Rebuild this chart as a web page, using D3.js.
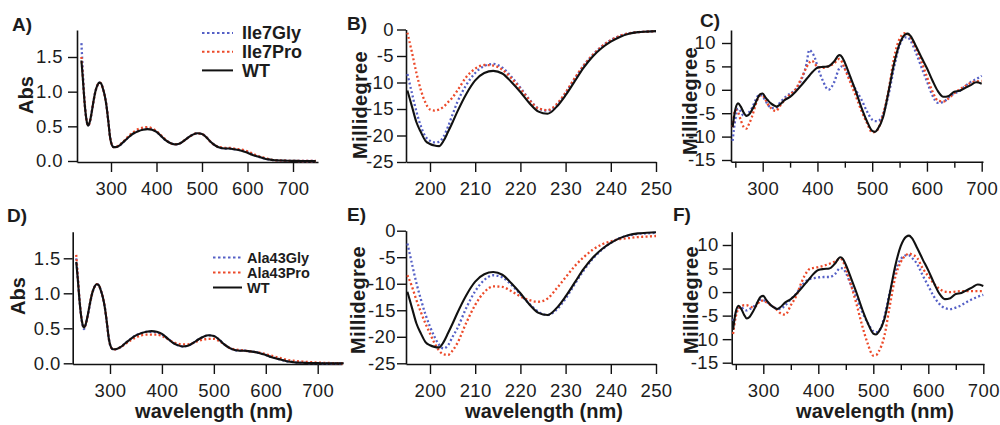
<!DOCTYPE html>
<html>
<head>
<meta charset="utf-8">
<script src="https://cdn.jsdelivr.net/npm/d3@7"></script>
<style>
body { margin: 0; background: #fff; }
svg text { font-family: "Liberation Sans", Arial, sans-serif; fill: #1c1c1c; }
</style>
</head>
<body>
<svg width="1000" height="425"></svg>
<script>
// ---- UV-vis absorbance (panels A and D) ----
var uvNm = [235,238,241,244,247,250,254,258,262,266,270,274,278,282,286,290,294,298,302,306,310,
  320,330,340,350,360,370,380,390,400,410,420,430,440,450,460,470,480,490,500,510,520,530,540,550,
  560,570,580,590,600,610,620,630,640,650,660,670,680,690,700,720,750];
var uvWT = [1.45,1.2,0.92,0.7,0.56,0.51,0.58,0.72,0.88,1.01,1.09,1.13,1.12,1.05,0.95,0.8,0.58,0.34,0.23,0.2,0.2,
  0.23,0.29,0.35,0.4,0.43,0.45,0.46,0.45,0.42,0.36,0.3,0.26,0.24,0.25,0.29,0.34,0.38,0.4,0.39,0.34,0.27,0.22,0.19,0.18,
  0.18,0.17,0.16,0.14,0.12,0.09,0.07,0.05,0.03,0.02,0.01,0.008,0.005,0.003,0.002,0,0];
var uvIle7Gly = [1.7,1.3,0.94,0.7,0.56,0.51,0.58,0.72,0.88,1.01,1.09,1.13,1.12,1.05,0.95,0.8,0.58,0.34,0.23,0.2,0.2,
  0.23,0.29,0.35,0.4,0.44,0.46,0.47,0.46,0.42,0.36,0.3,0.26,0.24,0.25,0.29,0.34,0.38,0.4,0.39,0.34,0.27,0.22,0.19,0.18,
  0.18,0.17,0.16,0.15,0.13,0.1,0.07,0.05,0.03,0.02,0.01,0.008,0.005,0.003,0.002,0,0];
var uvIle7Pro = [1.5,1.22,0.93,0.7,0.56,0.51,0.58,0.72,0.88,1.01,1.09,1.13,1.12,1.05,0.95,0.8,0.58,0.34,0.23,0.2,0.2,
  0.24,0.3,0.37,0.42,0.46,0.48,0.49,0.47,0.43,0.37,0.31,0.26,0.24,0.25,0.29,0.34,0.38,0.4,0.39,0.34,0.27,0.22,0.2,0.19,
  0.19,0.18,0.17,0.16,0.14,0.11,0.08,0.06,0.04,0.02,0.01,0.008,0.005,0.003,0.002,0,0];
var uvAla43Gly = [1.5,1.22,0.93,0.7,0.55,0.49,0.57,0.71,0.87,1.0,1.09,1.13,1.12,1.05,0.95,0.8,0.58,0.34,0.23,0.2,0.2,
  0.23,0.29,0.35,0.4,0.43,0.45,0.45,0.44,0.41,0.36,0.3,0.26,0.24,0.25,0.29,0.34,0.38,0.4,0.39,0.34,0.27,0.22,0.19,0.18,
  0.18,0.17,0.16,0.14,0.12,0.09,0.07,0.05,0.03,0.02,0.01,0.008,0.005,0.003,0.002,0,0];
var uvAla43Pro = [1.55,1.24,0.94,0.71,0.56,0.51,0.58,0.72,0.88,1.01,1.09,1.13,1.12,1.05,0.95,0.8,0.58,0.34,0.23,0.2,0.2,
  0.23,0.28,0.33,0.37,0.4,0.41,0.41,0.41,0.39,0.35,0.31,0.28,0.27,0.27,0.29,0.32,0.34,0.35,0.35,0.32,0.27,0.22,0.2,0.19,
  0.18,0.17,0.16,0.15,0.13,0.11,0.09,0.07,0.05,0.04,0.03,0.025,0.02,0.015,0.01,0.005,0];

// ---- far-UV CD (panels B and E) ----
var farNm = [195,196,197,198,199,200,201,202,203,204,205,206,208,210,212,214,216,218,220,222,224,226,228,230,
  232,234,236,238,240,242,244,246,248,250];
var farWT = [-11.5,-14.5,-17.5,-19.4,-21.0,-21.6,-21.9,-22.0,-21.0,-19.3,-17.5,-15.6,-12.2,-9.6,-8.2,-7.8,-8.3,-9.9,-11.8,-13.9,-15.5,-15.9,-14.6,-12.4,
  -9.8,-7.2,-5.1,-3.5,-2.3,-1.4,-0.8,-0.5,-0.4,-0.3];
var farIle7Gly = [-8.4,-12.0,-15.5,-18.3,-20.2,-21.0,-21.3,-21.2,-20.2,-18.3,-16.0,-13.8,-10.5,-8.2,-6.9,-6.5,-7.2,-8.9,-11.0,-13.2,-14.9,-15.3,-14.3,-12.0,
  -9.3,-6.8,-4.8,-3.2,-2.0,-1.2,-0.7,-0.5,-0.4,-0.3];
var farIle7Pro = [-0.6,-4.3,-8.2,-11.5,-13.8,-15.1,-15.3,-15.1,-14.6,-13.7,-12.8,-11.6,-9.0,-7.4,-6.7,-6.8,-7.6,-9.2,-11.2,-13.3,-14.9,-15.2,-14.1,-11.9,
  -9.2,-6.8,-4.8,-3.2,-2.0,-1.2,-0.7,-0.5,-0.4,-0.3];
var farAla43Gly = [-2.4,-6.2,-9.9,-13.0,-15.8,-18.1,-20.0,-21.5,-22.2,-21.6,-20.0,-18.5,-14.6,-11.4,-9.3,-8.4,-8.8,-10.2,-12.0,-13.8,-15.3,-15.9,-14.9,-12.8,
  -10.1,-7.5,-5.3,-3.6,-2.3,-1.4,-0.9,-0.6,-0.5,-0.4];
var farAla43Pro = [-8.4,-10.5,-13.1,-15.4,-17.5,-19.4,-21.2,-22.6,-23.3,-23.4,-22.6,-21.3,-17.4,-14.0,-11.6,-10.5,-10.6,-11.4,-12.4,-13.1,-13.4,-12.8,-10.9,-8.8,
  -6.7,-5.0,-3.6,-2.6,-2.0,-1.6,-1.4,-1.2,-1.1,-1.0];

// ---- near-UV/visible CD (panels C and F) ----
var visNm = [245,250,255,260,265,270,275,280,285,290,295,300,305,310,315,320,325,330,340,350,360,370,380,385,390,395,400,
  410,420,430,440,445,450,460,470,480,490,500,505,510,520,530,540,550,560,565,570,580,590,600,610,620,630,640,650,660,670,680,690,700];
var visWT = [-8.0,-4.2,-2.9,-3.6,-4.8,-5.6,-5.3,-4.4,-3.3,-2.0,-1.0,-0.8,-1.6,-2.3,-2.9,-3.3,-3.6,-3.3,-2.2,-1.5,-0.4,0.9,2.3,3.0,3.7,4.3,4.7,
  4.9,5.0,6.0,7.4,7.0,5.8,2.8,-0.3,-3.7,-6.6,-8.8,-9.0,-8.4,-5.8,-0.3,5.6,9.8,11.8,12.0,11.5,9.3,6.9,4.6,2.0,-0.3,-1.5,-1.3,-0.4,-0.2,0.4,1.0,1.6,1.3];
var visIle7Gly = [-10.9,-6.3,-4.0,-4.6,-5.5,-5.5,-4.8,-4.0,-2.7,-1.5,-1.1,-1.4,-2.3,-3.3,-3.8,-3.9,-3.8,-3.0,-1.7,-0.8,0.0,2.0,5.5,8.5,8.0,6.9,5.0,
  1.9,0.0,1.5,4.6,5.0,4.5,2.2,0.0,-2.0,-4.5,-6.4,-6.7,-6.7,-5.2,-1.0,4.8,9.5,11.2,11.2,10.5,7.9,4.8,1.8,-1.2,-2.8,-2.6,-1.6,-0.8,-0.2,0.8,1.7,2.3,3.0];
var visIle7Pro = [-8.0,-4.3,-4.8,-6.5,-7.9,-8.3,-7.3,-5.9,-4.0,-2.2,-1.3,-1.3,-2.1,-3.2,-3.9,-4.4,-4.5,-3.7,-2.2,-1.0,0.1,2.3,4.8,5.8,6.2,5.6,4.9,
  4.7,5.0,5.6,6.6,5.9,4.5,1.6,-1.3,-4.4,-7.0,-9.1,-9.0,-8.5,-5.2,0.0,6.9,10.9,12.1,11.9,11.2,8.9,6.0,2.8,-0.3,-2.3,-2.5,-1.8,-0.7,0.1,0.8,1.5,1.8,1.9];
var visAla43Gly = [-6.1,-4.5,-3.3,-3.3,-3.7,-3.9,-3.6,-3.3,-2.8,-2.2,-1.6,-1.7,-2.0,-2.4,-2.9,-3.3,-3.5,-3.6,-2.8,-1.5,-0.3,1.4,2.5,2.8,2.9,3.0,3.1,
  3.2,3.2,3.8,5.1,5.0,4.1,1.3,-1.4,-4.3,-6.6,-8.3,-8.5,-8.3,-5.3,0.0,4.4,7.0,7.8,7.8,7.3,5.9,3.5,1.3,-0.9,-2.5,-3.4,-3.6,-3.3,-2.8,-2.1,-1.5,-1.0,-0.6];
var visAla43Pro = [-8.9,-5.2,-3.5,-3.0,-2.8,-2.8,-3.0,-3.2,-3.1,-2.5,-1.8,-1.8,-2.1,-2.5,-2.9,-3.3,-3.8,-4.4,-4.8,-2.8,-0.8,2.2,4.4,5.0,5.1,5.2,5.3,
  5.6,6.0,6.5,7.1,6.5,4.9,1.3,-2.8,-7.2,-11.0,-13.5,-13.4,-12.6,-9.4,-2.9,3.2,6.4,7.9,8.2,8.0,7.2,5.0,3.4,1.8,0.7,0.1,0.0,0.1,0.2,0.2,0.2,0.2,0.2];

// ---- ticks and labels ----
var uvTicksX = [300,400,500,600,700];
var uvTicksY = [0,0.5,1.0,1.5];
var farTicksX = [200,210,220,230,240,250];
var farTicksY = [0,-5,-10,-15,-20,-25];
var visTicksX = [300,400,500,600,700];
var visMinorX = [250,350,450,550,650];
var visTicksY = [10,5,0,-5,-10,-15];
var legendTop = ["Ile7Gly","Ile7Pro","WT"];
var legendBottom = ["Ala43Gly","Ala43Pro","WT"];

var blue = "#5560c6", red = "#ec4a2a", black = "#111";
var svg = d3.select("svg");

function drawPanel(p) {
  var g = svg.append("g");
  var x = d3.scaleLinear().domain(p.xCal).range(p.xPix);
  x.domain([x.invert(p.left), x.invert(p.right)]).range([p.left, p.right]);
  var y = d3.scaleLinear().domain(p.yCal).range(p.yPix);
  y.domain([y.invert(p.bottom), y.invert(p.top)]).range([p.bottom, p.top]);

  var fmt = p.yFmt || function (d) { return String(d); };
  g.append("g").attr("transform", "translate(" + p.left + ",0)")
    .call(d3.axisLeft(y).tickValues(p.yTicks).tickSize(9).tickSizeOuter(0)
      .tickPadding(p.yPad).tickFormat(fmt));
  g.append("g").attr("transform", "translate(0," + p.bottom + ")")
    .call(d3.axisBottom(x).tickValues(p.xTicks).tickSize(10).tickSizeOuter(0)
      .tickPadding(10).tickFormat(function (d) { return String(d); }));
  if (p.minor) {
    g.append("g").attr("transform", "translate(0," + p.bottom + ")")
      .call(d3.axisBottom(x).tickValues(p.minor).tickSize(6).tickSizeOuter(0).tickFormat(""))
      .select(".domain").remove();
  }
  g.selectAll(".domain").attr("stroke", black).attr("stroke-width", 1.6);
  g.selectAll(".tick line").attr("stroke", black).attr("stroke-width", 1.4);
  g.selectAll(".tick text").attr("font-size", 18.5).attr("fill", "#222")
    .attr("letter-spacing", "0.4px")
    .attr("font-family", "Liberation Sans, Arial, sans-serif");

  var line = d3.line().curve(d3.curveMonotoneX)
    .x(function (d, i) { return x(p.nm[i]); })
    .y(function (d) { return y(d); });
  p.series.forEach(function (s) {
    g.append("path").datum(s.v).attr("d", line).attr("fill", "none")
      .attr("stroke", s.c).attr("stroke-width", s.dash ? 2.3 : 2.1)
      .attr("stroke-dasharray", s.dash ? "2,2.4" : null);
  });

  g.append("text").attr("x", p.lab[0]).attr("y", p.lab[1]).attr("font-size", 19)
    .attr("font-weight", "bold").text(p.name);
  g.append("text").attr("transform", "translate(" + p.yt[0] + "," + p.yt[1] + ") rotate(-90)")
    .attr("text-anchor", "middle").attr("font-size", 20).attr("font-weight", "bold")
    .attr("letter-spacing", p.yTitle === "Abs" ? "0px" : "0.3px").text(p.yTitle);
  if (p.xt) {
    g.append("text").attr("x", p.xt[0]).attr("y", p.xt[1]).attr("text-anchor", "middle")
      .attr("font-size", 20).attr("font-weight", "bold").text("wavelength (nm)");
  }
  if (p.legend) {
    var L = p.legend;
    p.legendSeries.forEach(function (s, i) {
      var yy = L.y + i * L.dy;
      g.append("line").attr("x1", L.x1).attr("x2", L.x2).attr("y1", yy).attr("y2", yy)
        .attr("stroke", s.c).attr("stroke-width", 2)
        .attr("stroke-dasharray", s.dash ? "2.5,2.5" : null);
      g.append("text").attr("x", L.tx).attr("y", yy).attr("dy", "0.36em")
        .attr("font-size", L.fs).attr("font-weight", "bold").text(L.names[i]);
    });
  }
}

function ser(v, c, dash) { return { v: v, c: c, dash: dash }; }

var topUV = [ser(uvIle7Gly, blue, true), ser(uvIle7Pro, red, true), ser(uvWT, black, false)];
var botUV = [ser(uvAla43Gly, blue, true), ser(uvAla43Pro, red, true), ser(uvWT, black, false)];

drawPanel({ name: "A)", lab: [12, 31], nm: uvNm, series: topUV, legendSeries: topUV,
  xCal: [300, 700], xPix: [111, 293], left: 77, right: 318,
  yCal: [0, 1.5], yPix: [161, 57], top: 30, bottom: 162,
  xTicks: uvTicksX, yTicks: uvTicksY, yPad: 5, yFmt: d3.format(".1f"),
  yTitle: "Abs", yt: [33, 95],
  legend: { x1: 202, x2: 233, tx: 242, y: 33, dy: 18.7, fs: 18, names: legendTop } });

drawPanel({ name: "B)", lab: [347, 30], nm: farNm,
  series: [ser(farIle7Gly, blue, true), ser(farIle7Pro, red, true), ser(farWT, black, false)],
  xCal: [200, 250], xPix: [430, 656], left: 406, right: 656,
  yCal: [0, -25], yPix: [29.5, 162], top: 29.5, bottom: 162,
  xTicks: farTicksX, yTicks: farTicksY, yPad: 3,
  yTitle: "Millidegree", yt: [367, 105] });

drawPanel({ name: "C)", lab: [700, 27], nm: visNm,
  series: [ser(visIle7Gly, blue, true), ser(visIle7Pro, red, true), ser(visWT, black, false)],
  xCal: [300, 700], xPix: [762.7, 981.7], left: 731, right: 983, minor: visMinorX,
  yCal: [10, -15], yPix: [43, 160], top: 30, bottom: 161.7,
  xTicks: visTicksX, yTicks: visTicksY, yPad: 6,
  yTitle: "Millidegree", yt: [697, 101] });

drawPanel({ name: "D)", lab: [7, 222], nm: uvNm, series: botUV, legendSeries: botUV,
  xCal: [300, 700], xPix: [110, 317.7], left: 72.7, right: 342,
  yCal: [0, 1.5], yPix: [363.3, 258.3], top: 231.7, bottom: 364,
  xTicks: uvTicksX, yTicks: uvTicksY, yPad: 3, yFmt: d3.format(".1f"),
  yTitle: "Abs", yt: [25, 296], xt: [214, 418],
  legend: { x1: 213, x2: 242, tx: 247, y: 257.5, dy: 15, fs: 14.5, names: legendBottom } });

drawPanel({ name: "E)", lab: [347, 221], nm: farNm,
  series: [ser(farAla43Gly, blue, true), ser(farAla43Pro, red, true), ser(farWT, black, false)],
  xCal: [200, 250], xPix: [430, 656], left: 406, right: 656,
  yCal: [0, -25], yPix: [230.7, 363.3], top: 230.7, bottom: 364,
  xTicks: farTicksX, yTicks: farTicksY, yPad: 1,
  yTitle: "Millidegree", yt: [365, 300], xt: [544, 418] });

drawPanel({ name: "F)", lab: [673, 221], nm: visNm,
  series: [ser(visAla43Gly, blue, true), ser(visAla43Pro, red, true), ser(visWT, black, false)],
  xCal: [300, 700], xPix: [763.3, 983.3], left: 731.7, right: 984, minor: visMinorX,
  yCal: [10, -15], yPix: [245, 362.7], top: 231.7, bottom: 364,
  xTicks: visTicksX, yTicks: visTicksY, yPad: 4,
  yTitle: "Millidegree", yt: [698, 300], xt: [875, 418] });
</script>
</body>
</html>
